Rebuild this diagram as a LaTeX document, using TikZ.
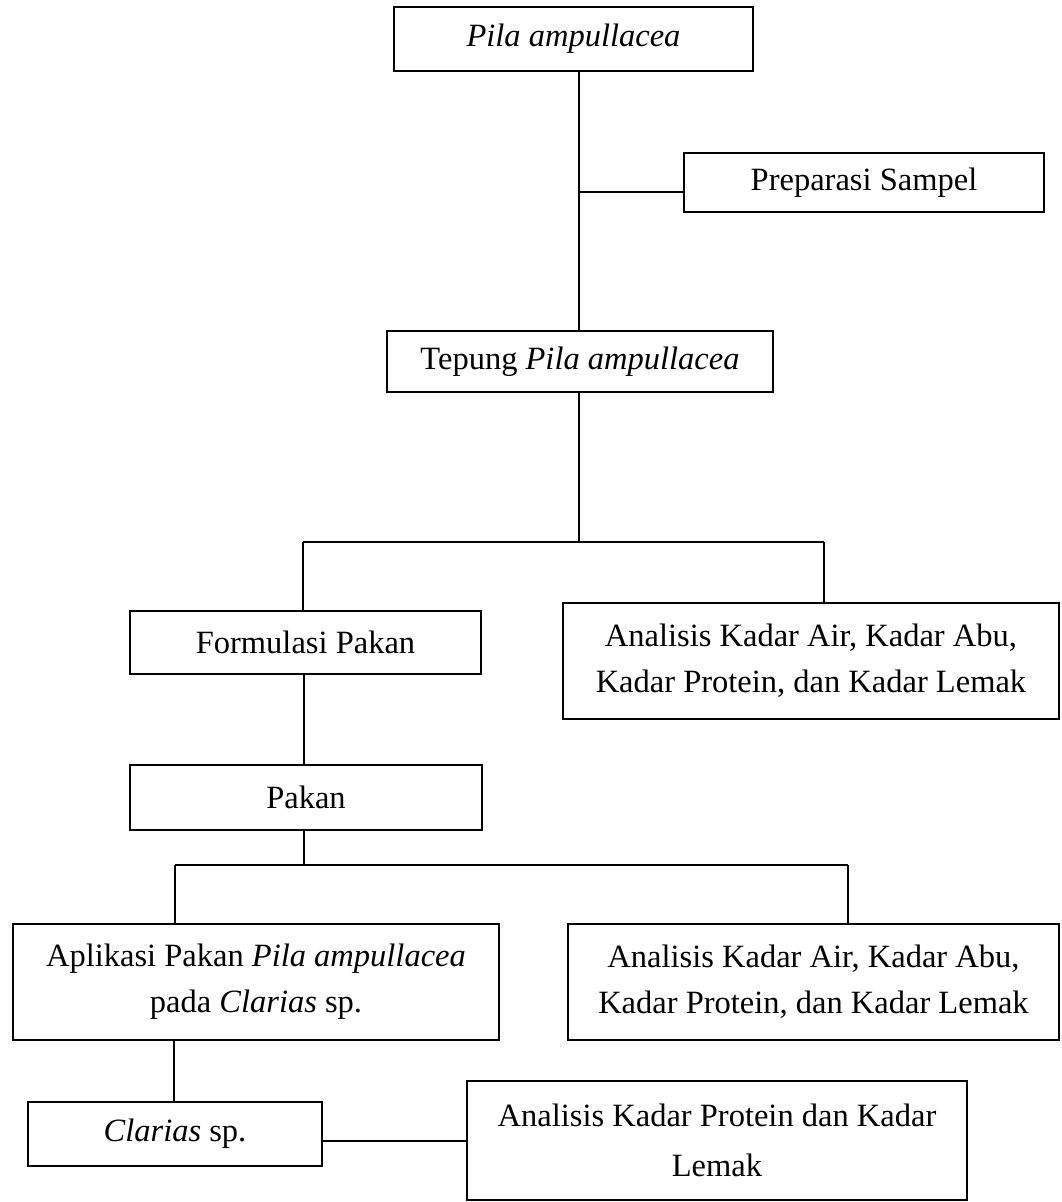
\documentclass[tikz,border=0pt]{standalone}
\usepackage{fontspec}
\setmainfont{Liberation Serif}
\begin{document}
\begin{tikzpicture}[x=1pt,y=-1pt,
  bx/.style={draw, line width=2pt, inner sep=0pt, align=center,
    font=\fontsize{32.5}{46}\selectfont},
  conn/.style={draw, line width=1.6pt}]
\useasboundingbox (0,0) rectangle (1062,1202);
\node[bx, minimum width=359, minimum height=64] (top) at (573.5,39) {\textit{Pila ampullacea}};
\node[bx, minimum width=360, minimum height=59] (prep) at (864,182.5) {Preparasi Sampel};
\node[bx, minimum width=386, minimum height=61] (tep) at (580,361.5) {Tepung \textit{Pila ampullacea}};
\node[bx, minimum width=351, minimum height=63] (form) at (305.5,642.5) {Formulasi Pakan};
\node[bx, minimum width=496, minimum height=116] (an1) at (811,661) {Analisis Kadar Air, Kadar Abu,\\Kadar Protein, dan Kadar Lemak};
\node[bx, minimum width=352, minimum height=65] (pakan) at (306,797.5) {Pakan};
\node[bx, minimum width=486, minimum height=116] (apl) at (256,982) {Aplikasi Pakan \textit{Pila ampullacea}\\pada \textit{Clarias} sp.};
\node[bx, minimum width=491, minimum height=116] (an2) at (813.5,982) {Analisis Kadar Air, Kadar Abu,\\Kadar Protein, dan Kadar Lemak};
\node[bx, minimum width=294, minimum height=64] (clar) at (175,1134) {\textit{Clarias} sp.};
\node[bx, minimum width=500, minimum height=119, font=\fontsize{32.5}{50}\selectfont] (an3) at (717,1140.5) {Analisis Kadar Protein dan Kadar\\Lemak};
% connectors
\coordinate (j0) at (579,192);
\draw[conn] (top.south -| j0) -- (tep.north -| j0);
\draw[conn] (j0) -- (prep.west |- j0);
\coordinate (j1) at (579,542);
\coordinate (l1) at (303,542);
\coordinate (r1) at (824,542);
\draw[conn] (tep.south -| j1) -- (j1);
\draw[conn] (l1) -- (r1);
\draw[conn] (l1) -- (form.north -| l1);
\draw[conn] (r1) -- (an1.north -| r1);
\coordinate (j2) at (304,865);
\coordinate (l2) at (175,865);
\coordinate (r2) at (848,865);
\draw[conn] (form.south -| j2) -- (pakan.north -| j2);
\draw[conn] (pakan.south -| j2) -- (j2);
\draw[conn] (l2) -- (r2);
\draw[conn] (l2) -- (apl.north -| l2);
\draw[conn] (r2) -- (an2.north -| r2);
\coordinate (j3) at (174,0);
\draw[conn] (apl.south -| j3) -- (clar.north -| j3);
\coordinate (j4) at (0,1141);
\draw[conn] (clar.east |- j4) -- (an3.west |- j4);
\end{tikzpicture}
\end{document}
